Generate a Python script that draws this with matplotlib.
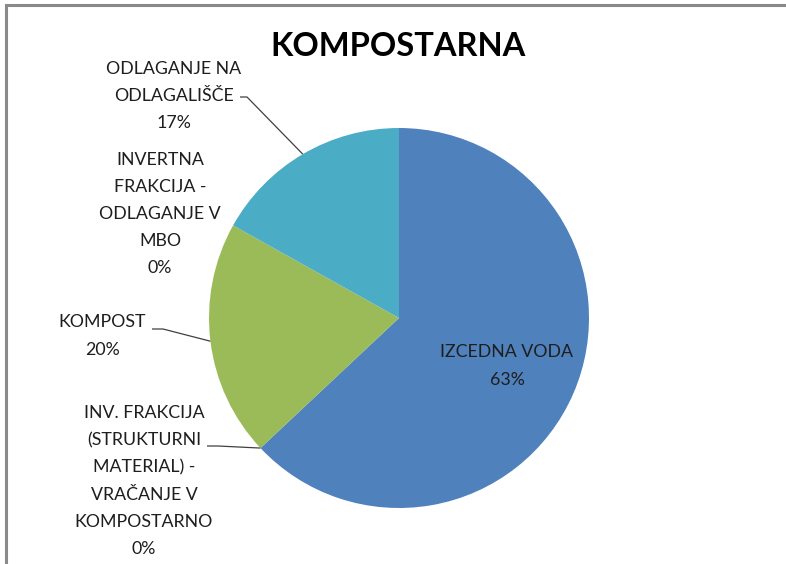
import matplotlib
matplotlib.use("Agg")
import matplotlib.pyplot as plt
import numpy as np

categories = ["IZCEDNA VODA",
              "INV. FRAKCIJA\n(STRUKTURNI\nMATERIAL) -\nVRAČANJE V\nKOMPOSTARNO",
              "KOMPOST",
              "INVERTNA\nFRAKCIJA -\nODLAGANJE V\nMBO",
              "ODLAGANJE NA\nODLAGALIŠČE"]
values = [63.0, 0.0, 20.1, 0.0, 16.9]
pct_labels = ["63%", "0%", "20%", "0%", "17%"]
colors = ["#4F81BD", "#C0504D", "#9BBB59", "#8064A2", "#4BACC6"]

W, H = 786, 564
fig = plt.figure(figsize=(W / 100, H / 100), dpi=100)
ax = fig.add_axes([0, 0, 1, 1])

cx, cy, r = 399, H - 318, 190
wedges, _ = ax.pie(values, colors=colors, startangle=90, counterclock=False,
                   center=(cx, cy), radius=r, wedgeprops=dict(linewidth=0),
                   frame=True)
ax.set_xlim(0, W)
ax.set_ylim(0, H)
ax.set_aspect("equal")
ax.axis("off")

font = "Lato"
tc = "#1e1e1e"
fs = 12.8
ls = 1.85

def edge_point(w):
    a = np.deg2rad((w.theta1 + w.theta2) / 2)
    return cx + r * np.cos(a), cy + r * np.sin(a)

# title
ax.text(398, H - 47, "KOMPOSTARNA", ha="center", va="center",
        fontsize=23.5, fontweight="bold", family=font, color="#000000")

# inside label
ax.text(507, H - 366, categories[0] + "\n" + pct_labels[0], ha="center",
        va="center", fontsize=fs, family=font, color=tc, linespacing=ls)

# outside labels: (text center x, center y in px from top, leader start)
layout = {
    4: (174, 96, (240, 97), (247, 97)),
    3: (160, 214, None, None),
    2: (102, 336, (152, 329), (163, 329)),
    1: (144, 481, (207, 446), (218, 446)),
}
for i, (tx, ty, p0, p1) in layout.items():
    ax.text(tx, H - ty, categories[i] + "\n" + pct_labels[i], ha="center",
            va="center", fontsize=fs, family=font, color=tc, linespacing=ls)
    if p0 is not None:
        ex, ey = edge_point(wedges[i])
        ax.plot([p0[0], p1[0], ex], [H - p0[1], H - p1[1], ey],
                color="#404040", lw=0.9, solid_capstyle="butt")

# frame
ax.plot([6, 6, W], [0, H - 5, H - 5], color="#8a8a8a", lw=2.2,
        solid_joinstyle="miter")

fig.savefig("out.png", dpi=100, facecolor="white")
